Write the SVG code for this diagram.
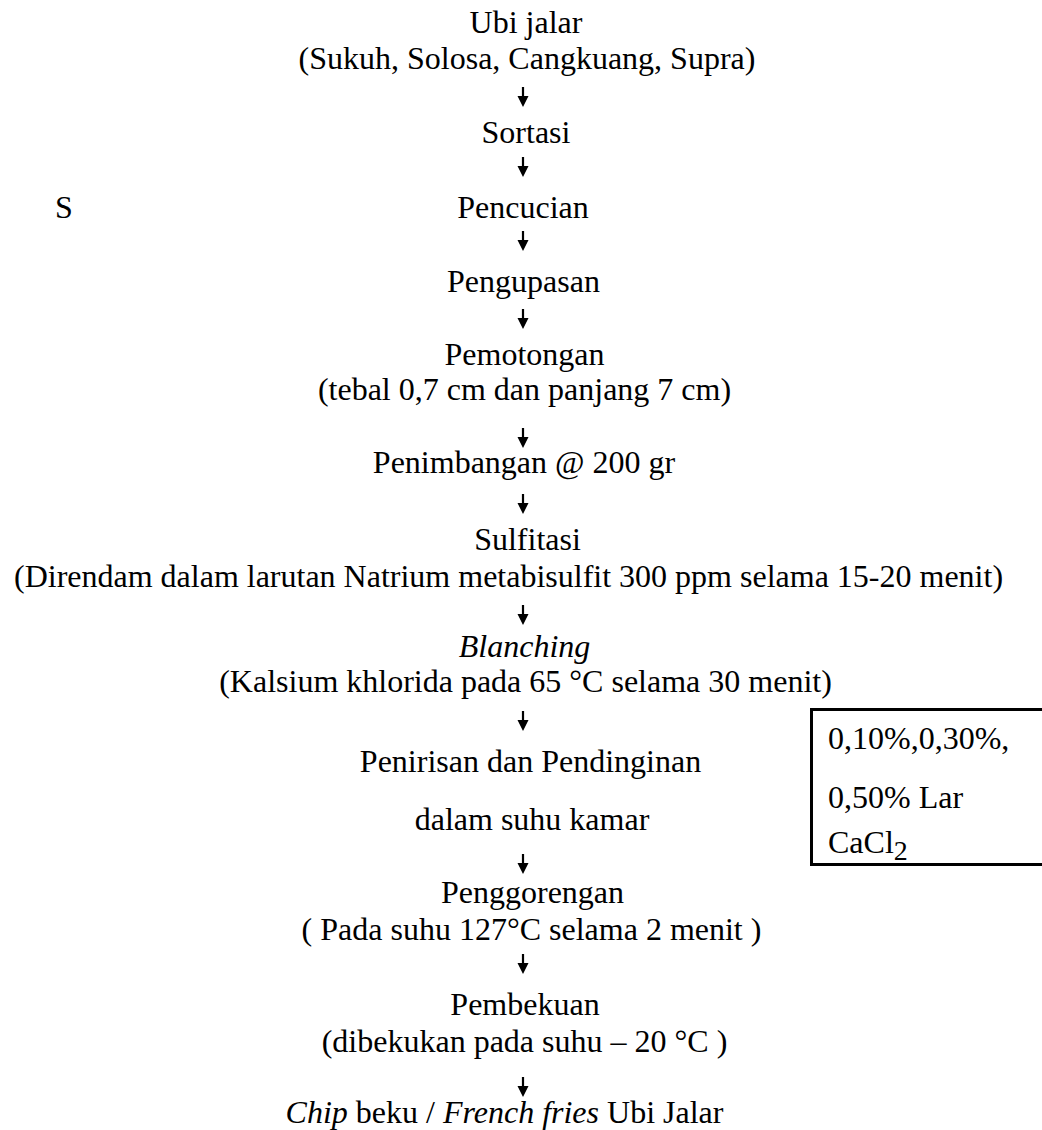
<svg xmlns="http://www.w3.org/2000/svg" width="1042" height="1130" viewBox="0 0 1042 1130">
<defs>
<style>
text{font-family:"Liberation Serif","Tinos","Times New Roman","DejaVu Serif",serif;font-size:32px;fill:#000}
.c{text-anchor:middle}
.i{font-style:italic}
.arrow{fill:#000;stroke:none}
.box{fill:none;stroke:#000;stroke-width:3}
</style>
<path id="arr" class="arrow" d="M-1.1,0 H1.1 V9 H5.5 L0,20 L-5.5,9 H-1.1 Z"/>
</defs>
<rect width="1042" height="1130" fill="#fff"/>
<g id="connectors">
<use href="#arr" x="523" y="87"/>
<use href="#arr" x="523" y="157"/>
<use href="#arr" x="523" y="231"/>
<use href="#arr" x="523" y="309"/>
<use href="#arr" x="523" y="428"/>
<use href="#arr" x="523" y="494"/>
<use href="#arr" x="523" y="605"/>
<use href="#arr" x="523" y="711"/>
<use href="#arr" x="523" y="854"/>
<use href="#arr" x="523" y="954"/>
<use href="#arr" x="523" y="1077"/>
</g>
<g id="n-ubi" font-family="Liberation Serif, serif"><text class="c" x="526" y="33">Ubi jalar</text><text class="c" x="527" y="69">(Sukuh, Solosa, Cangkuang, Supra)</text></g>
<g id="n-sortasi"><text class="c" x="526" y="143">Sortasi</text></g>
<g id="n-s"><text x="55" y="218">S</text></g>
<g id="n-pencucian"><text class="c" x="523" y="218">Pencucian</text></g>
<g id="n-pengupasan"><text class="c" x="523.5" y="292">Pengupasan</text></g>
<g id="n-pemotongan"><text class="c" x="524.5" y="365">Pemotongan</text><text class="c" x="524.5" y="400">(tebal 0,7 cm dan panjang 7 cm)</text></g>
<g id="n-penimbangan"><text class="c" x="524" y="473">Penimbangan @ 200 gr</text></g>
<g id="n-sulfitasi"><text class="c" x="527.5" y="550">Sulfitasi</text><text class="c" x="508.5" y="587">(Direndam dalam larutan Natrium metabisulfit 300 ppm selama 15-20 menit)</text></g>
<g id="n-blanching"><text class="c i" x="524.5" y="657">Blanching</text><text class="c" x="525.5" y="692">(Kalsium khlorida pada 65 °C selama 30 menit)</text></g>
<g id="n-penirisan"><text class="c" x="530.5" y="772">Penirisan dan Pendinginan</text><text class="c" x="532" y="830">dalam suhu kamar</text></g>
<g id="n-cacl2"><rect class="box" x="811.5" y="709.5" width="240" height="155"/><text x="828" y="749">0,10%,0,30%,</text><text x="828" y="808">0,50% Lar</text><text x="828" y="853">CaCl<tspan font-size="28" dy="7">2</tspan></text></g>
<g id="n-penggorengan"><text class="c" x="532.5" y="903">Penggorengan</text><text class="c" x="531.5" y="940">( Pada suhu 127°C selama 2 menit )</text></g>
<g id="n-pembekuan"><text class="c" x="525" y="1015">Pembekuan</text><text class="c" x="524.5" y="1052">(dibekukan pada suhu – 20 °C )</text></g>
<g id="n-chip"><text class="c" x="504.5" y="1123"><tspan class="i">Chip</tspan> beku / <tspan class="i">French fries</tspan> Ubi Jalar</text></g>
</svg>
